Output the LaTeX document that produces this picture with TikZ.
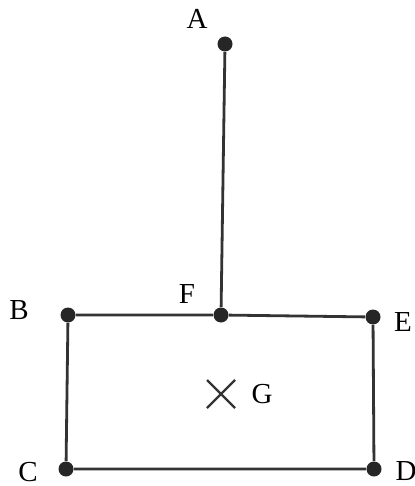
\documentclass[tikz,border=0pt]{standalone}
\usepackage{fontspec}
\setmainfont{Liberation Serif}
\usetikzlibrary{calc}
\begin{document}
\begin{tikzpicture}[x=0.5pt,y=-0.5pt,
  dot/.style={circle,fill=black!85,inner sep=0pt,minimum size=7.5pt},
  lbl/.style={inner sep=0pt,font=\fontsize{14.5}{17}\selectfont},
  edge/.style={line width=1.4pt,draw=black!80}]
\useasboundingbox (0,0) rectangle (414,486);
\node[dot] (A) at (225,44) {};
\node[dot] (F) at (221,315) {};
\node[dot] (B) at (68,315) {};
\node[dot] (E) at (373,317) {};
\node[dot] (C) at (66,469) {};
\node[dot] (D) at (374,469) {};
\coordinate (G) at (221,394);
\draw[edge] (A) -- (F);
\draw[edge] (B) -- (F) -- (E) -- (D) -- (C) -- (B);
\draw[line width=1.1pt,draw=black!80] ($(G)+(-14,-14)$) -- ($(G)+(14,14)$);
\draw[line width=1.1pt,draw=black!80] ($(G)+(-14,14)$) -- ($(G)+(14,-14)$);
\node[lbl] (lA) at (197,19) {A};
\node[lbl] (lB) at (19,310) {B};
\node[lbl] (lF) at (187,294) {F};
\node[lbl] (lE) at (403,322) {E};
\node[lbl] (lC) at (28,472) {C};
\node[lbl] (lD) at (406,471) {D};
\node[lbl] (lG) at (262,394) {G};
\end{tikzpicture}
\end{document}
